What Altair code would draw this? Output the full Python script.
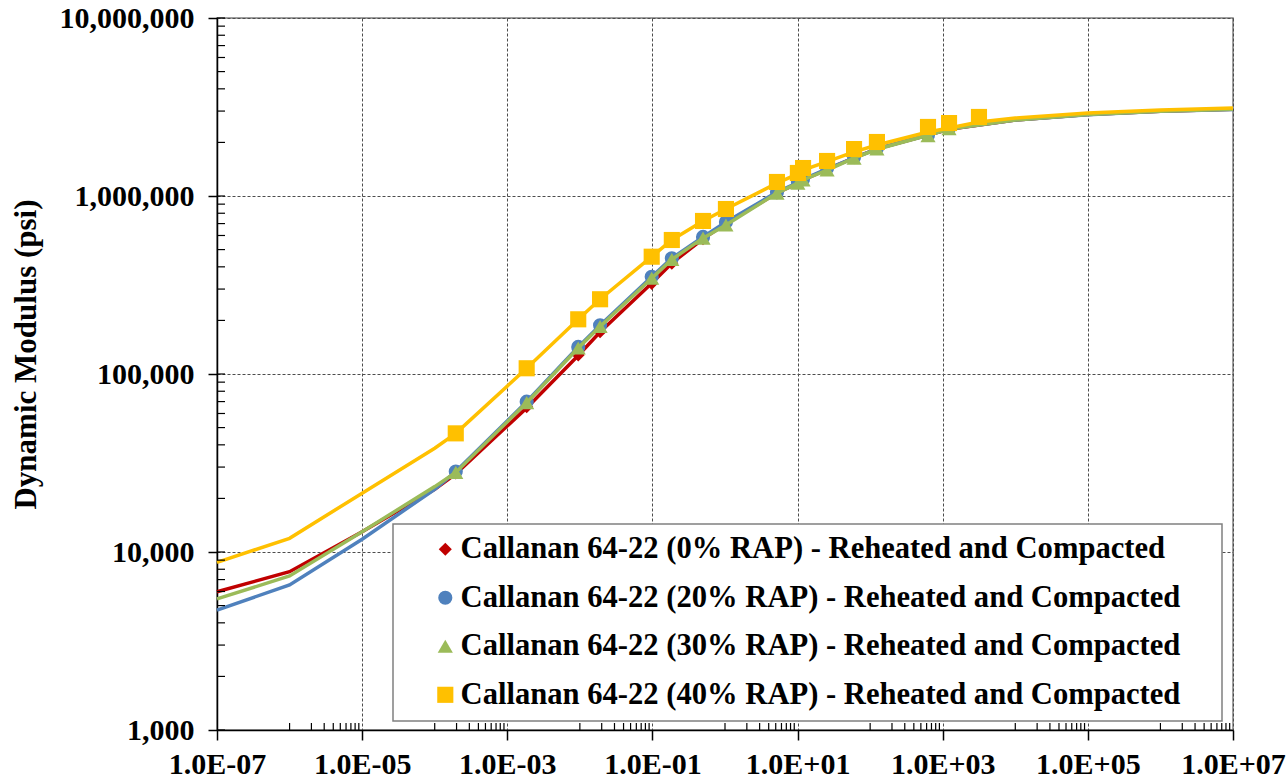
import altair as alt
import pandas as pd

# ---- data ----
names = [
    "Callanan 64-22 (0% RAP) - Reheated and Compacted",
    "Callanan 64-22 (20% RAP) - Reheated and Compacted",
    "Callanan 64-22 (30% RAP) - Reheated and Compacted",
    "Callanan 64-22 (40% RAP) - Reheated and Compacted",
]
colors = ["#C00000", "#4F81BD", "#9BBB59", "#FFC000"]
shapes = ["diamond", "circle", "triangle-up", "square"]
sizes = [170, 260, 280, 330]

# measured points (reduced frequency, Hz)
freq_low = [1.95e-4, 1.85e-3, 9.5e-3, 0.019, 0.0977, 0.185, 0.498, 1.03,
            5.2, 10.1, 11.9, 25.5, 60, 124, 627, 1222]
freq_40 = [1.95e-4, 1.85e-3, 9.5e-3, 0.019, 0.0977, 0.185, 0.498, 1.03,
           5.2, 10.1, 11.9, 25.5, 60, 124, 627, 1222, 3160]

e_0 = [27800, 65500, 128000, 173000, 323000, 419000, 575000, 700000,
       1040000, 1190000, 1240000, 1420000, 1640000, 1850000, 2190000, 2400000]
e_20 = [28300, 69900, 142000, 188000, 352000, 447000, 589000, 714000,
        1052000, 1199000, 1247000, 1436000, 1656000, 1861000, 2203000, 2410000]
e_30 = [28000, 69000, 140000, 185000, 345000, 440000, 580000, 687000,
        1038000, 1180000, 1230000, 1399000, 1630000, 1840000, 2180000, 2390000]
e_40 = [46400, 107700, 202900, 263000, 456000, 566000, 724000, 845000,
        1199000, 1347000, 1436000, 1573000, 1836000, 2011000, 2443000, 2570000, 2780000]

# fitted master curves (lines)
line_f_low = [1e-7, 1e-6, 1e-5, 1e-4, 1.95e-4, 1.85e-3, 9.5e-3, 0.019, 0.0977, 0.185,
              0.498, 1.03, 5.2, 10.1, 11.9, 25.5, 60, 124, 627, 1222, 1e4, 1e5, 1e6, 1e7]
line_f_40 = [1e-7, 1e-6, 1e-5, 1e-4, 1.95e-4, 1.85e-3, 9.5e-3, 0.019, 0.0977, 0.185,
             0.498, 1.03, 5.2, 10.1, 11.9, 25.5, 60, 124, 627, 1222, 3160, 1e4, 1e5, 1e6, 1e7]
line_0 = [5980, 7750, 13000, 22500, 27500, 64500, 127000, 172000, 323000, 419000,
          575000, 700000, 1040000, 1180000, 1230000, 1410000, 1640000, 1840000, 2200000, 2370000,
          2670000, 2870000, 2995000, 3070000]
line_20 = [4720, 6530, 11800, 22500, 28300, 69900, 142000, 188000, 352000, 447000,
           589000, 714000, 1052000, 1190000, 1240000, 1420000, 1640000, 1840000, 2200000, 2380000,
           2670000, 2865000, 2990000, 3065000]
line_30 = [5450, 7330, 13000, 23300, 28000, 69000, 140000, 185000, 345000, 440000,
           580000, 687000, 1038000, 1180000, 1230000, 1399000, 1630000, 1830000, 2190000, 2375000,
           2675000, 2870000, 2995000, 3070000]
line_40 = [8750, 11940, 21400, 38300, 46400, 107700, 202900, 263000, 456000, 566000,
           724000, 845000, 1180000, 1330000, 1400000, 1560000, 1770000, 1935000, 2290000, 2410000,
           2606000, 2742000, 2925000, 3040000, 3120000]

x_major = [1e-7, 1e-5, 1e-3, 1e-1, 1e1, 1e3, 1e5, 1e7]
y_major = [1e3, 1e4, 1e5, 1e6, 1e7]
x_minor = [m * 10.0 ** k for k in (-6, -4, -2, 0, 2, 4, 6) for m in range(1, 10)]
y_minor = [m * 10.0 ** k for k in (3, 4, 5, 6) for m in range(1, 10)] + [1e7]

# ---- tables ----
pt_rows = []
line_rows = []
series_pts = [(freq_low, e_0), (freq_low, e_20), (freq_low, e_30), (freq_40, e_40)]
series_lines = [(line_f_low, line_0), (line_f_low, line_20), (line_f_low, line_30), (line_f_40, line_40)]
for i, name in enumerate(names):
    fx, ey = series_pts[i]
    for f, e in zip(fx, ey):
        pt_rows.append({"series": name, "f": f, "E": e})
    lf, le = series_lines[i]
    for f, e in zip(lf, le):
        line_rows.append({"series": name, "f": f, "E": e})
pts = pd.DataFrame(pt_rows)
lines = pd.DataFrame(line_rows)

FONT = "Liberation Serif"
xscale = alt.Scale(type="log", domain=[1e-7, 1e7], nice=False)
yscale = alt.Scale(type="log", domain=[1e3, 1e7], nice=False)

exp = "round(log(datum.value)/LN10)"
x_axis = alt.Axis(
    values=x_major, title=None,
    labelExpr=f"'1.0E' + ({exp} < 0 ? '-' : '+') + (abs({exp}) < 10 ? '0' : '') + abs({exp})",
    grid=True, gridColor="#4d4d4d", gridDash=[3, 2], gridWidth=1,
    tickSize=10, tickColor="black", tickWidth=1.5,
    domainColor="black", domainWidth=1.5,
    labelFont=FONT, labelFontWeight="bold", labelFontSize=30, labelColor="black",
    labelPadding=9, labelFlush=False, labelOverlap=False,
)
y_axis = alt.Axis(
    values=y_major, format=",d", title="Dynamic Modulus (psi)",
    grid=True, gridColor="#4d4d4d", gridDash=[3, 2], gridWidth=1,
    tickSize=9, tickColor="black", tickWidth=1.5,
    domainColor="black", domainWidth=1.5,
    labelFont=FONT, labelFontWeight="bold", labelFontSize=30, labelColor="black",
    labelPadding=14, labelFlush=False, labelOverlap=False,
    titleFont=FONT, titleFontWeight="bold", titleFontSize=31, titleColor="black",
    titleX=-182, titleY=336, titleBaseline="alphabetic", titleAlign="center",
)

legend = alt.Legend(
    title=None, orient="none", legendX=176, legendY=506,
    fillColor="white", strokeColor="#808080",
    padding=10, rowPadding=17.5, symbolOffset=27, labelOffset=0,
    labelFont=FONT, labelFontWeight="bold", labelFontSize=30.6, labelColor="black",
    labelLimit=1200, symbolStrokeWidth=0,
    labelExpr="datum.label + '\u00a0\u2800'",
)

color_scale = alt.Scale(domain=names, range=colors)
shape_scale = alt.Scale(domain=names, range=shapes)
size_scale = alt.Scale(domain=names, range=sizes)

X = alt.X("f:Q", scale=xscale, axis=x_axis)
Y = alt.Y("E:Q", scale=yscale, axis=y_axis)

layers = []
for i, name in enumerate(names):
    ln = alt.Chart(lines).transform_filter(alt.datum.series == name).mark_line(
        color=colors[i], strokeWidth=3.5
    ).encode(x=X, y=Y)
    pt = alt.Chart(pts).transform_filter(alt.datum.series == name).mark_point(
        filled=True, opacity=1, strokeWidth=0
    ).encode(
        x=X, y=Y,
        color=alt.Color("series:N", scale=color_scale, legend=legend),
        shape=alt.Shape("series:N", scale=shape_scale, legend=legend),
        size=alt.Size("series:N", scale=size_scale, legend=legend),
    )
    layers += [ln, pt]

xminor = alt.Chart(pd.DataFrame({"f": x_minor})).mark_rule(color="black", strokeWidth=1.2).encode(
    x=X, y=alt.value(712), y2=alt.value(705)
)
yminor = alt.Chart(pd.DataFrame({"E": y_minor})).mark_rule(color="black", strokeWidth=1.2).encode(
    y=Y, x=alt.value(0), x2=alt.value(8)
)
layers += [xminor, yminor]

chart = alt.layer(*layers).properties(
    width=1016, height=712,
    autosize=alt.AutoSizeParams(type="none"),
    padding={"left": 217, "top": 18, "right": 55, "bottom": 52},
    background="white",
).configure_view(stroke="#7f7f7f", strokeWidth=1.5).configure_legend(strokeWidth=1.5)

chart.save("out.html", embed_options={"renderer": "svg", "actions": False})
